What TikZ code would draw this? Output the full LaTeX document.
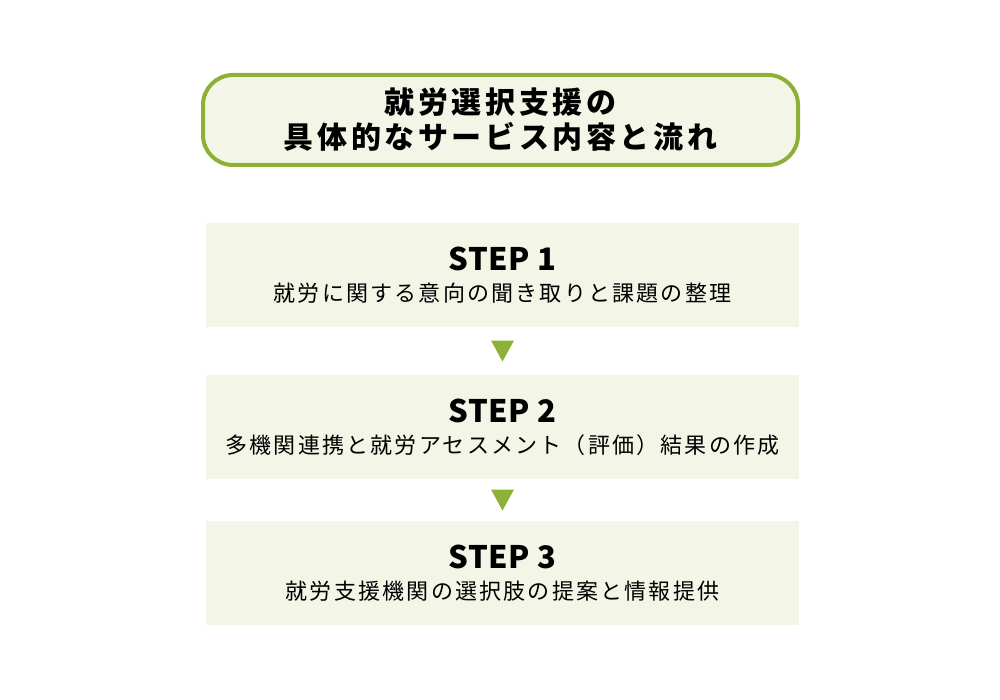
\documentclass[tikz,border=0pt]{standalone}
\usepackage{fontspec}
\newfontfamily\jpfont{Noto Sans CJK JP}
\usetikzlibrary{calc}
\definecolor{leaf}{HTML}{8DB036}
\definecolor{paleleaf}{HTML}{F3F6E7}
\newcommand{\steplabel}[1]{{\fontsize{31}{31}\selectfont\bfseries\addfontfeature{LetterSpace=2}#1}}

\begin{document}
\begin{tikzpicture}[x=1pt,y=-1pt,
  title node/.style={rectangle,rounded corners=30pt,draw=leaf,line width=4pt,fill=paleleaf,
    minimum width=595pt,minimum height=90pt,align=center,
    font=\jpfont\bfseries\fontsize{30}{35}\selectfont\addfontfeature{LetterSpace=12}},
  step node/.style={rectangle,fill=paleleaf,minimum width=593pt,minimum height=104pt,align=center,
    font=\jpfont\fontsize{22}{31}\selectfont\addfontfeature{LetterSpace=10}},
  step arrow/.style={fill=leaf}]

  \useasboundingbox (0,0) rectangle (1000,700);

  \node[title node] (title) at (500.5,120) {就労選択支援の\\具体的なサービス内容と流れ};

  \node[step node] (s1) at (502.5,275) {\steplabel{STEP 1}\\就労に関する意向の聞き取りと課題の整理};
  \node[step node] (s2) at (502.5,427) {\steplabel{STEP 2}\\多機関連携と就労アセスメント（評価）結果の作成};
  \node[step node] (s3) at (502.5,573) {\steplabel{STEP 3}\\就労支援機関の選択肢の提案と情報提供};

  % arrows between the steps
  \path (s1.south) -- (s2.north) coordinate[pos=.5] (a1);
  \path (s2.south) -- (s3.north) coordinate[pos=.5] (a2);
  \foreach \a in {a1,a2}
    \fill[step arrow] (\a) ++(-11.5,-10.5) -- ++(23,0) -- ++(-11.5,21) -- cycle;

\end{tikzpicture}
\end{document}
